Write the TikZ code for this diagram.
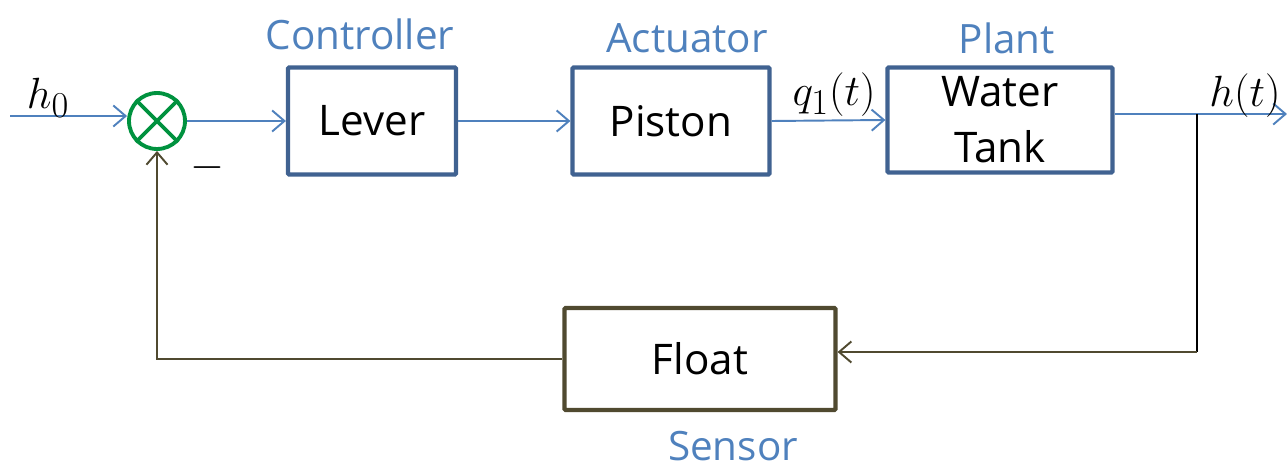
\documentclass[tikz,border=0pt]{standalone}
\usepackage{amsmath}
\usepackage{fontspec}
\setmainfont{Open Sans}
\usetikzlibrary{arrows.meta}

\definecolor{boxblue}{RGB}{64,98,145}
\definecolor{lineblue}{RGB}{79,129,189}
\definecolor{olive}{RGB}{80,74,48}
\definecolor{sumgreen}{RGB}{0,146,63}

\tikzset{
  block/.style={draw=boxblue,line width=2.4pt,rounded corners=0.6pt,align=center,
    font=\fontsize{24}{26}\selectfont,inner sep=0pt},
  tag/.style={text=lineblue,font=\fontsize{23}{25}\selectfont},
  sig/.style={draw=lineblue,line width=1.1pt,-{Straight Barb[length=7pt,width=12pt]}},
  fb/.style={draw=olive,line width=1.1pt},
  lbl/.style={font=\fontsize{28}{30}\selectfont}
}

\begin{document}
\begin{tikzpicture}[x=0.02cm,y=0.02cm]
  \useasboundingbox (0,0) rectangle (1287,470);
  % forward path
  \coordinate (in) at (10,354);
  \node[draw=sumgreen,line width=2.2pt,circle,minimum size=1.12cm,inner sep=0pt] (sum) at (157,349) {};
  \draw[sumgreen,line width=2.2pt] (sum.north west)--(sum.south east) (sum.north east)--(sum.south west);
  \node[block,minimum width=3.36cm,minimum height=2.14cm] (lever) at (372,349) {Lever};
  \node[block,minimum width=3.94cm,minimum height=2.14cm] (piston) at (671,349) {Piston};
  \node[block,minimum width=4.5cm,minimum height=2.1cm] (tank) at (1000,350) {Water\\[6pt]Tank};
  \coordinate (out) at (1287,356);
  \coordinate (split) at (1197,356);
  \coordinate (fbr) at (1197,118);
  \node[block,draw=olive,minimum width=5.42cm,minimum height=2.04cm] (float) at (700,111) {Float};
  \draw[sig] (in) -- (sum.west |- in);
  \draw[sig] (sum.east) -- (lever.west);
  \draw[sig] (lever.east) -- (piston.west);
  \draw[sig] (piston.east) -- (tank.west);
  \draw[sig] (tank.east |- out) -- (out);
  % feedback
  \draw[line width=1.1pt] (split) -- (fbr);
  \draw[fb,-{Straight Barb[length=7pt,width=12pt]}] (fbr) -- (float.east |- fbr);
  \draw[fb,-{Straight Barb[length=7pt,width=12pt]}] (float.west) -| (sum.south);
  % labels
  \node[tag] (tctrl) at (360,436) {Controller};
  \node[tag] (tact) at (687,432) {Actuator};
  \node[tag] (tplant) at (1007,432) {Plant};
  \node[tag] (tsens) at (733,24) {Sensor};
  \node[lbl] (h0) at (48,372) {$h_0$};
  \node[lbl] (q1) at (834,375) {$q_1(t)$};
  \node[lbl] (ht) at (1245,374) {$h(t)$};
  \node[lbl] (minus) at (207,302) {$-$};
\end{tikzpicture}
\end{document}
